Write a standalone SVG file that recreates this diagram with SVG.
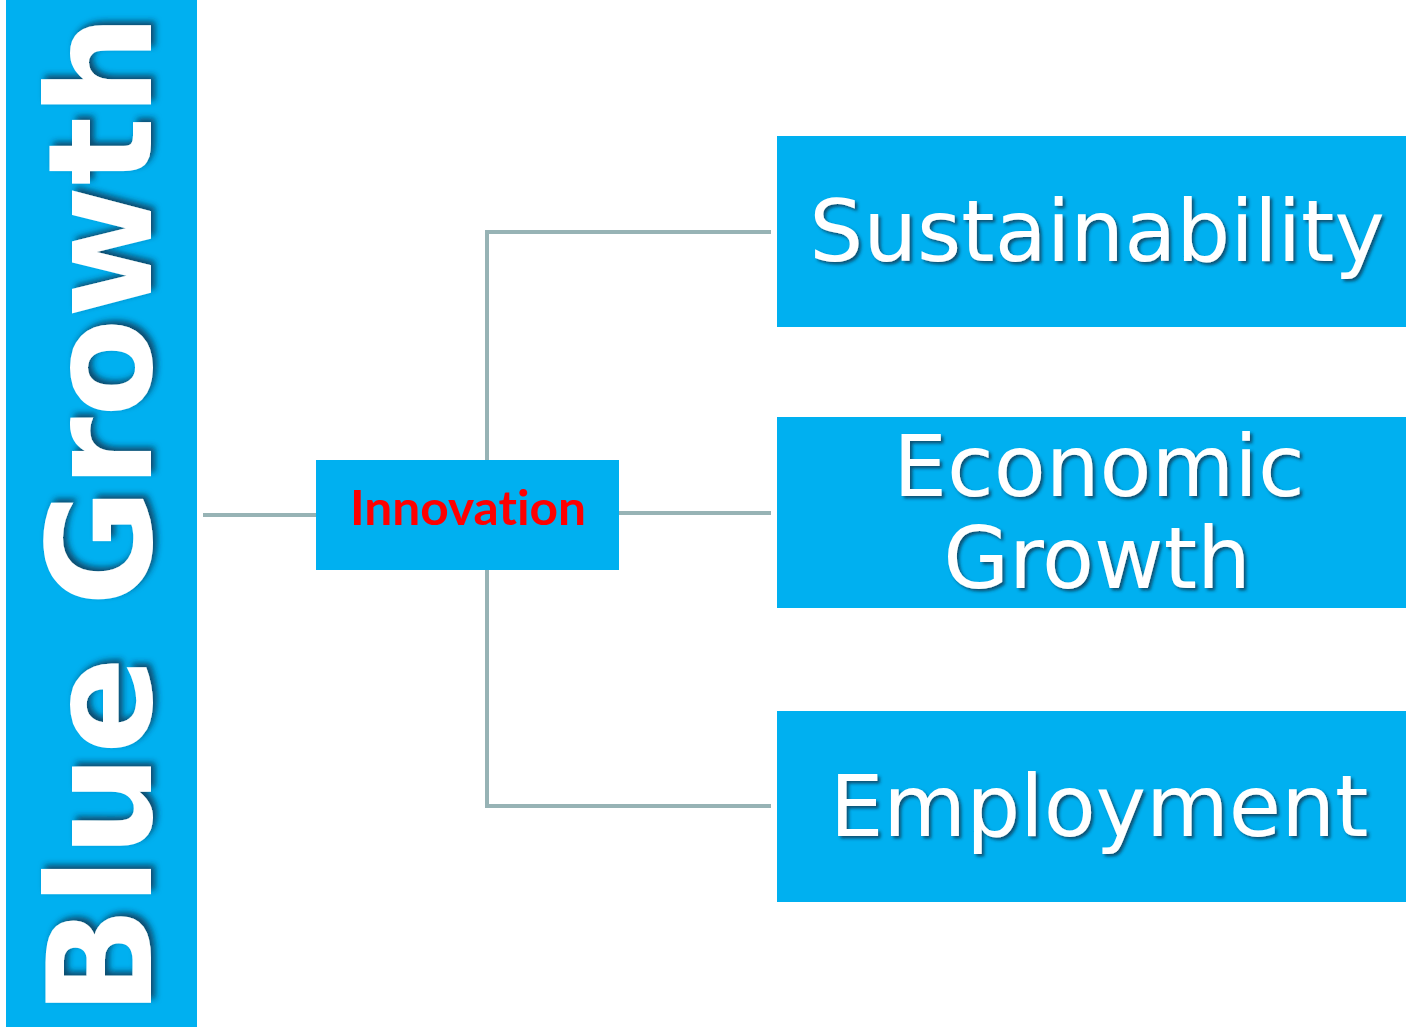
<svg xmlns="http://www.w3.org/2000/svg" width="1406" height="1027" viewBox="0 0 1406 1027">
<defs>
<filter id="sh" x="-10%" y="-20%" width="120%" height="150%">
<feDropShadow dx="2.5" dy="2.5" stdDeviation="1.5" flood-color="#0a2a40" flood-opacity="0.7"/>
</filter>
<filter id="shBig" x="-10%" y="-20%" width="120%" height="150%">
<feDropShadow dx="4" dy="4" stdDeviation="3" flood-color="#0a2a40" flood-opacity="0.75"/>
</filter>
</defs>
<style>
.box{fill:#00B0F0}
.lbl{font-family:"DejaVu Sans",Verdana,sans-serif;font-size:85px;fill:#fff;text-anchor:middle}
.conn{stroke:#97B3B5;stroke-width:4;fill:none}
</style>
<rect width="1406" height="1027" fill="#fff"/>
<g id="connectors">
<line class="conn" x1="203" y1="515" x2="316" y2="515"/>
<line class="conn" x1="619" y1="513" x2="771" y2="513"/>
<polyline class="conn" points="771,232 487,232 487,460"/>
<polyline class="conn" points="487,570 487,806 771,806"/>
</g>
<g id="blue-growth">
<rect class="box" x="6" y="0" width="191" height="1027"/>
<g transform="translate(151,1016) rotate(-90)">
<text x="0" y="0" font-family="DejaVu Sans,Verdana,sans-serif" font-weight="bold" font-size="144" fill="#fff" filter="url(#shBig)">Blue Growth</text>
</g>
</g>
<g id="innovation">
<rect class="box" x="316" y="460" width="303" height="110"/>
<text x="468" y="525" font-family="Lato,'Open Sans',sans-serif" font-weight="bold" font-size="48" fill="#FF0000" text-anchor="middle" style="font-variant-ligatures:none" textLength="236" lengthAdjust="spacingAndGlyphs">Innovation</text>
</g>
<g id="sustainability">
<rect class="box" x="777" y="136" width="629" height="191"/>
<text class="lbl" x="1097" y="261" filter="url(#sh)">Sustainability</text>
</g>
<g id="economic-growth">
<rect class="box" x="777" y="417" width="629" height="191"/>
<text class="lbl" x="1099" y="496" filter="url(#sh)">Economic</text>
<text class="lbl" x="1097" y="588" filter="url(#sh)">Growth</text>
</g>
<g id="employment">
<rect class="box" x="777" y="711" width="629" height="191"/>
<text class="lbl" x="1099" y="836" filter="url(#sh)">Employment</text>
</g>
</svg>
